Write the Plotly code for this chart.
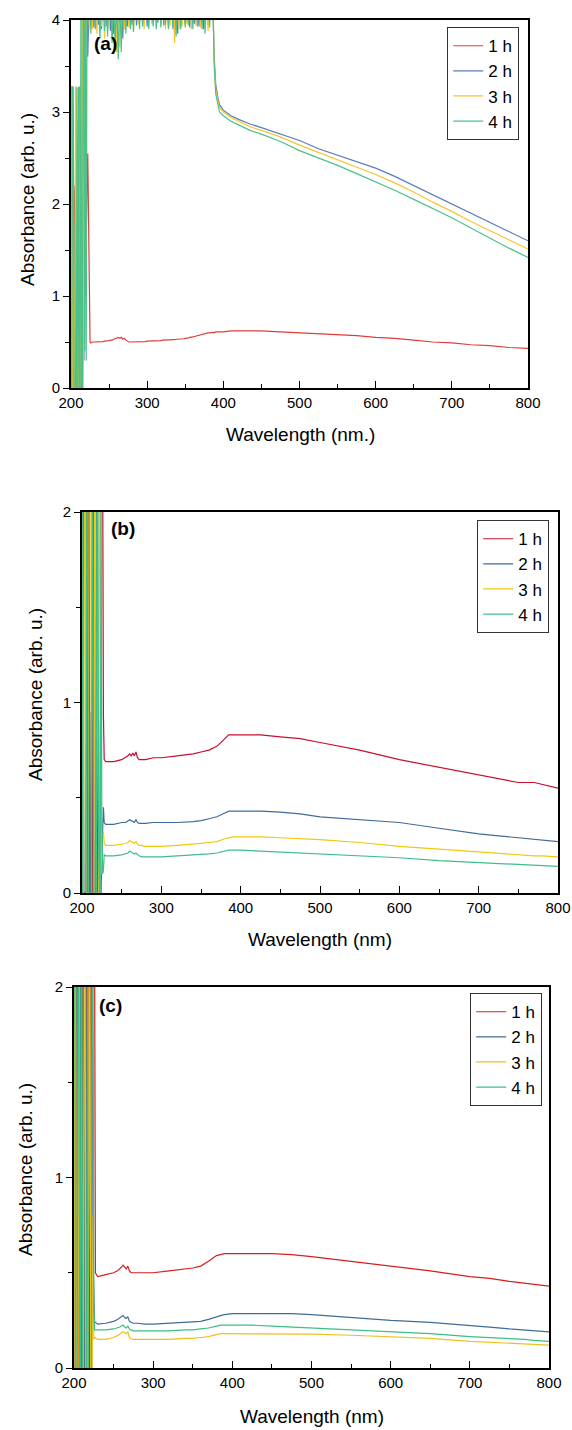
import plotly.graph_objects as go

# ---------------- data ----------------
labels = ["1 h", "2 h", "3 h", "4 h"]

# panel (a) wavelength grid: 1 nm in the noisy UV edge, 2 nm in the saturated band, then coarser
wl_a = list(range(200, 226)) + list(range(226, 387, 2)) + [
    388, 390, 393, 395, 400, 410, 420, 435, 450, 475, 500, 525, 550, 575,
    600, 625, 650, 675, 700, 725, 750, 775, 800]

a_1h_edge = [0, 0, 0.5, 0, 2.2, 1.9, 0, 0, 0, 1.5, 0, 0, 0.35, 0, 0, 0, 0.5, 1.2, 1.9, 1.0, 1.8, 2.2, 2.55, 1.85, 0.7, 0.5]
a_1h_band = [0.49, 0.5, 0.5, 0.5, 0.5, 0.5, 0.5, 0.5, 0.505, 0.51,
             0.51, 0.51, 0.515, 0.52, 0.52, 0.53, 0.535, 0.545, 0.55, 0.54,
             0.55, 0.53, 0.54, 0.52, 0.51, 0.5, 0.5, 0.5, 0.5, 0.5,
             0.5, 0.5, 0.5, 0.5, 0.505, 0.505, 0.505, 0.51, 0.51, 0.51,
             0.51, 0.51, 0.51, 0.515, 0.515, 0.515, 0.515, 0.52, 0.52, 0.52,
             0.52, 0.52, 0.52, 0.525, 0.525, 0.525, 0.53, 0.53, 0.53, 0.53,
             0.535, 0.535, 0.54, 0.54, 0.545, 0.55, 0.55, 0.555, 0.56, 0.565,
             0.57, 0.575, 0.58, 0.585, 0.59, 0.595, 0.6, 0.6, 0.6, 0.605,
             0.605]
a_1h_tail = [0.6, 0.61, 0.61, 0.61, 0.61, 0.62, 0.62, 0.62, 0.62, 0.61, 0.6, 0.59, 0.58, 0.57, 0.55, 0.54, 0.52, 0.5, 0.49, 0.47, 0.46, 0.44, 0.43]

a_2h_edge = [0, 3.27, 3.27, 0, 0, 1.8, 0, 3.27, 0, 0, 0, 3.27, 3.27, 0, 0, 4.3, 4.3, 0.3, 4.3, 4.3, 4.3, 4.3, 3.6, 4.3, 4.3, 4.3]
a_2h_band = [4.3, 4.3, 3.92, 4.3, 4.3, 3.95, 4.3, 3.9, 4.3, 4.3,
             3.93, 4.3, 4.3, 3.88, 4.3, 3.85, 4.3, 3.75, 4.3, 3.9,
             4.3, 3.8, 4.3, 4.3, 3.93, 4.3, 4.3, 3.95, 4.3, 4.3,
             3.94, 4.3, 4.3, 4.3, 3.96, 4.3, 4.3, 3.93, 4.3, 4.3,
             4.3, 3.95, 4.3, 4.3, 3.97, 4.3, 4.3, 4.3, 3.94, 4.3,
             4.3, 3.92, 4.3, 4.3, 3.9, 4.3, 4.3, 3.85, 4.3, 3.93,
             4.3, 4.3, 3.95, 4.3, 4.3, 3.92, 4.3, 4.3, 3.96, 4.3,
             4.3, 3.93, 4.3, 4.3, 3.9, 4.3, 4.3, 3.95, 4.3, 4.3,
             4.3]
a_2h_tail = [3.6, 3.3, 3.15, 3.08, 3.02, 2.96, 2.92, 2.87, 2.83, 2.76, 2.69, 2.6, 2.53, 2.46, 2.39, 2.3, 2.2, 2.1, 2.0, 1.9, 1.8, 1.7, 1.6]

a_3h_edge = [3.27, 0, 0, 2.5, 0, 0, 3.27, 3.27, 0, 1.2, 0, 0, 3.27, 0, 4.3, 4.3, 0, 4.3, 4.3, 3.8, 4.3, 4.3, 4.3, 4.3, 3.9, 4.3]
a_3h_band = [4.3, 3.9, 4.3, 4.3, 3.85, 4.3, 4.3, 3.93, 4.3, 3.8,
             4.3, 4.3, 3.9, 4.3, 3.82, 4.3, 4.3, 3.65, 4.3, 3.7,
             4.3, 4.3, 3.9, 4.3, 4.3, 3.92, 4.3, 4.3, 3.88, 4.3,
             4.3, 3.95, 4.3, 4.3, 4.3, 3.9, 4.3, 4.3, 3.94, 4.3,
             3.96, 4.3, 4.3, 3.92, 4.3, 4.3, 3.95, 4.3, 4.3, 3.9,
             4.3, 4.3, 3.94, 4.3, 4.3, 3.75, 4.3, 4.3, 3.9, 4.3,
             3.93, 4.3, 4.3, 3.96, 4.3, 4.3, 3.9, 4.3, 4.3, 3.94,
             4.3, 4.3, 3.92, 4.3, 4.3, 3.95, 4.3, 3.88, 4.3, 4.3,
             4.3]
a_3h_tail = [3.55, 3.25, 3.12, 3.05, 3.0, 2.94, 2.9, 2.84, 2.8, 2.73, 2.64, 2.56, 2.48, 2.4, 2.32, 2.23, 2.13, 2.02, 1.92, 1.81, 1.71, 1.61, 1.51]

a_4h_edge = [0, 0, 3.27, 3.27, 0, 0, 0, 0, 3.27, 0, 3.27, 0, 0, 4.3, 0, 0, 4.3, 4.3, 0.4, 4.3, 0.3, 4.3, 4.3, 4.3, 4.3, 4.3]
a_4h_band = [3.85, 4.3, 4.3, 3.9, 4.3, 4.3, 3.8, 4.3, 4.3, 3.88,
             4.3, 3.82, 4.3, 4.3, 3.75, 4.3, 3.7, 4.3, 3.57, 4.3,
             3.65, 4.3, 4.3, 3.85, 4.3, 4.3, 3.9, 4.3, 3.87, 4.3,
             4.3, 4.3, 3.9, 4.3, 3.93, 4.3, 4.3, 4.3, 3.9, 4.3,
             4.3, 3.93, 4.3, 3.9, 4.3, 4.3, 3.92, 4.3, 4.3, 3.95,
             4.3, 3.9, 4.3, 4.3, 3.93, 4.3, 3.82, 4.3, 4.3, 3.9,
             4.3, 4.3, 3.92, 4.3, 3.94, 4.3, 4.3, 3.9, 4.3, 4.3,
             3.93, 4.3, 4.3, 3.9, 4.3, 3.85, 4.3, 4.3, 3.92, 4.3,
             4.3]
a_4h_tail = [3.5, 3.2, 3.08, 3.0, 2.96, 2.9, 2.86, 2.8, 2.76, 2.68, 2.58, 2.5, 2.42, 2.33, 2.24, 2.15, 2.05, 1.95, 1.85, 1.74, 1.63, 1.52, 1.42]

a_1h = a_1h_edge + a_1h_band + a_1h_tail
a_2h = a_2h_edge + a_2h_band + a_2h_tail
a_3h = a_3h_edge + a_3h_band + a_3h_tail
a_4h = a_4h_edge + a_4h_band + a_4h_tail

# panels (b) and (c) wavelength grid
wl_bc = list(range(200, 229)) + [
    230, 240, 250, 255, 258, 260, 262, 264, 266, 268, 270, 272, 275, 280, 290, 300, 320, 340, 350, 360,
    370, 380, 385, 390, 400, 425, 450, 475, 500, 550, 600, 650, 700, 725, 750, 770, 780, 800]

b_1h = [0, 0, 2.3, 2.3, 2.3, 0, 0, 0, 2.3, 2.3, 0, 0, 0, 0, 2.3, 2.3, 2.3, 0, 0, 2.3, 2.3, 2.3, 2.3, 2.3, 2.3, 2.3, 2.3] + \
       [0.93, 0.70] + \
       [0.69, 0.69, 0.70, 0.71, 0.72, 0.73, 0.72, 0.735, 0.72, 0.74, 0.71, 0.70, 0.70, 0.70, 0.71, 0.71, 0.72, 0.73, 0.74, 0.75,
        0.77, 0.81, 0.83, 0.83, 0.83, 0.83, 0.82, 0.81, 0.79, 0.75, 0.70, 0.66, 0.62, 0.60, 0.58, 0.58, 0.57, 0.55]
b_2h = [2.3, 2.3, 0, 0, 0, 2.3, 2.3, 0, 0, 0, 0.95, 0, 0, 2.3, 2.3, 0, 0, 0, 2.3, 0, 0, 0.9, 0, 0, 0, 0.2, 0.3] + \
       [0.45, 0.37] + \
       [0.36, 0.36, 0.37, 0.37, 0.38, 0.385, 0.38, 0.375, 0.37, 0.385, 0.37, 0.365, 0.365, 0.365, 0.37, 0.37, 0.37, 0.375, 0.38, 0.39,
        0.40, 0.42, 0.43, 0.43, 0.43, 0.43, 0.425, 0.415, 0.40, 0.385, 0.37, 0.34, 0.31, 0.30, 0.29, 0.285, 0.28, 0.27]
b_3h = [0, 0, 0, 2.3, 2.3, 0, 0, 0, 0, 2.3, 2.3, 2.3, 0, 0, 0, 0, 2.3, 2.3, 0, 0, 0, 0, 2.3, 2.3, 0.1, 0.3, 0.3] + \
       [0.32, 0.26] + \
       [0.25, 0.25, 0.255, 0.26, 0.265, 0.275, 0.27, 0.265, 0.26, 0.27, 0.255, 0.25, 0.25, 0.245, 0.245, 0.245, 0.25, 0.255, 0.26, 0.265,
        0.27, 0.285, 0.29, 0.295, 0.295, 0.295, 0.29, 0.285, 0.28, 0.265, 0.245, 0.23, 0.215, 0.21, 0.2, 0.195, 0.195, 0.19]
b_4h = [2.3, 0, 0, 0, 0, 0, 2.3, 2.3, 0, 0, 0, 0, 0, 2.3, 0.7, 0, 0, 0, 0, 2.3, 2.3, 0.25, 0, 0, 2.3, 0.35, 0.1] + \
       [0.12, 0.2] + \
       [0.195, 0.195, 0.2, 0.205, 0.21, 0.22, 0.215, 0.21, 0.205, 0.21, 0.2, 0.195, 0.19, 0.19, 0.19, 0.19, 0.195, 0.2, 0.2, 0.205,
        0.21, 0.22, 0.225, 0.225, 0.225, 0.22, 0.215, 0.21, 0.205, 0.195, 0.185, 0.17, 0.16, 0.155, 0.15, 0.145, 0.145, 0.14]

c_1h = [0, 0, 0, 0, 2.3, 2.3, 0, 0, 0, 0, 0, 2.3, 2.3, 0, 0, 0, 2.3, 2.3, 2.3, 0, 0, 2.3, 2.3, 2.3, 2.3, 2.3, 2.3] + \
       [0.5, 0.49] + \
       [0.48, 0.49, 0.5, 0.51, 0.52, 0.53, 0.54, 0.53, 0.52, 0.535, 0.51, 0.5, 0.5, 0.5, 0.5, 0.5, 0.51, 0.52, 0.525, 0.535,
        0.56, 0.59, 0.595, 0.6, 0.6, 0.6, 0.6, 0.595, 0.585, 0.56, 0.535, 0.51, 0.48, 0.47, 0.455, 0.445, 0.44, 0.43]
c_2h = [0, 0, 2.3, 2.3, 0, 0, 0, 0, 2.3, 0, 0, 0, 0, 0, 2.3, 2.3, 0, 0, 0, 0, 0, 0, 2.3, 2.3, 0.6, 0.3, 0.24] + \
       [0.24, 0.235] + \
       [0.23, 0.235, 0.245, 0.255, 0.265, 0.27, 0.275, 0.265, 0.26, 0.27, 0.245, 0.24, 0.235, 0.235, 0.23, 0.23, 0.235, 0.24, 0.24, 0.245,
        0.255, 0.27, 0.275, 0.28, 0.285, 0.285, 0.285, 0.285, 0.28, 0.265, 0.25, 0.24, 0.225, 0.215, 0.205, 0.2, 0.195, 0.19]
c_3h = [0, 2.3, 2.3, 0, 0, 0, 2.3, 0, 0, 0, 0, 0, 0, 2.3, 2.3, 0, 0, 0, 0, 2.3, 2.3, 0, 0, 0, 0.8, 0.15, 0.16] + \
       [0.16, 0.155] + \
       [0.15, 0.15, 0.16, 0.17, 0.18, 0.185, 0.19, 0.185, 0.18, 0.19, 0.16, 0.155, 0.15, 0.15, 0.15, 0.15, 0.15, 0.155, 0.155, 0.16,
        0.165, 0.175, 0.18, 0.18, 0.18, 0.18, 0.18, 0.18, 0.178, 0.172, 0.165, 0.155, 0.14, 0.135, 0.13, 0.125, 0.125, 0.12]
c_4h = [2.3, 2.3, 0, 0, 0, 2.3, 2.3, 0, 0, 2.3, 2.3, 0, 0, 0, 0, 0, 0, 2.3, 0, 0, 0, 0, 0, 2.3, 2.3, 0.3, 0.2] + \
       [0.2, 0.2] + \
       [0.2, 0.2, 0.205, 0.21, 0.215, 0.22, 0.225, 0.215, 0.21, 0.22, 0.205, 0.2, 0.195, 0.195, 0.195, 0.195, 0.195, 0.2, 0.2, 0.205,
        0.21, 0.22, 0.225, 0.225, 0.225, 0.225, 0.22, 0.215, 0.21, 0.2, 0.19, 0.18, 0.165, 0.16, 0.155, 0.15, 0.145, 0.14]

colors_a = ["#e03c3c", "#5a7db5", "#f7c431", "#4cc28a"]
colors_b = ["#c8102e", "#3f6c99", "#f2c80f", "#3dbf8a"]
colors_c = ["#d81e1e", "#3e6d96", "#f0c020", "#3cbf85"]

# ---------------- figure ----------------
W, H = 572, 1430
FONT = "Liberation Sans, Arial, sans-serif"

def px_x(p):
    return p / W

def px_y(p):
    return 1 - p / H

panels = [
    (wl_a, [a_1h, a_2h, a_3h, a_4h], colors_a, "", "legend", 4, (71, 528, 20, 388), (519, 27)),
    (wl_bc, [b_1h, b_2h, b_3h, b_4h], colors_b, "2", "legend2", 2, (82, 558, 512, 893), (549, 520)),
    (wl_bc, [c_1h, c_2h, c_3h, c_4h], colors_c, "3", "legend3", 2, (74, 549, 987, 1368), (542, 993)),
]

fig = go.Figure()
layout = dict(
    template="none",
    width=W, height=H, margin=dict(l=0, r=0, t=0, b=0, autoexpand=False),
    paper_bgcolor="white", plot_bgcolor="white",
    font=dict(family=FONT, color="black"),
    showlegend=True,
)

for wl, series, cols, sfx, lg, ymax, dom, lpos in panels:
    for name, ys, col in zip(labels, series, cols):
        fig.add_trace(go.Scatter(
            x=wl, y=ys, mode="lines", name=name,
            line=dict(color=col, width=1.2),
            xaxis="x" + sfx, yaxis="y" + sfx, legend=lg,
        ))
    x0, x1, y0, y1 = dom
    layout["xaxis" + sfx] = dict(
        domain=[px_x(x0), px_x(x1)], range=[200, 800], anchor="y" + sfx, automargin=False,
        tick0=200, dtick=100, ticks="inside", ticklen=7, tickwidth=1.2, tickcolor="black",
        minor=dict(dtick=50, ticks="inside", ticklen=4, tickwidth=1.2, tickcolor="black"),
        showline=True, linecolor="black", linewidth=1.6, mirror=True,
        showgrid=False, zeroline=False, tickfont=dict(size=15, family=FONT),
        ticklabeloverflow="allow",
    )
    layout["yaxis" + sfx] = dict(
        domain=[px_y(y1), px_y(y0)], range=[0, ymax], anchor="x" + sfx, automargin=False,
        tick0=0, dtick=1, ticks="outside", ticklen=6, tickwidth=1.2, tickcolor="black",
        minor=dict(dtick=0.5, ticks="outside", ticklen=4, tickwidth=1.2, tickcolor="black"),
        showline=True, linecolor="black", linewidth=1.6, mirror=True,
        showgrid=False, zeroline=False, tickfont=dict(size=15, family=FONT),
    )
    layout[lg] = dict(
        x=px_x(lpos[0]), xanchor="right", y=px_y(lpos[1]), yanchor="top",
        bordercolor="#333333", borderwidth=1.2, bgcolor="white",
        font=dict(size=17, family=FONT), tracegroupgap=0,
    )

fig.update_layout(**layout)

annotations = []
for xc, yc in [(27, 200), (35, 695), (25, 1170)]:
    annotations.append(dict(text="Absorbance (arb. u.)", x=px_x(xc), y=px_y(yc), xref="paper", yref="paper",
                            textangle=-90, showarrow=False, font=dict(size=19, family=FONT),
                            xanchor="center", yanchor="middle"))
for txt, xc, yc in [("Wavelength (nm.)", 300, 434), ("Wavelength (nm)", 320, 940), ("Wavelength (nm)", 312, 1416)]:
    annotations.append(dict(text=txt, x=px_x(xc), y=px_y(yc), xref="paper", yref="paper",
                            showarrow=False, font=dict(size=19, family=FONT),
                            xanchor="center", yanchor="middle"))
for txt, xl, yc in [("<b>(a)</b>", 92, 43), ("<b>(b)</b>", 109, 528), ("<b>(c)</b>", 97, 1005)]:
    annotations.append(dict(text=txt, x=px_x(xl), y=px_y(yc), xref="paper", yref="paper",
                            showarrow=False, font=dict(size=19, family=FONT),
                            xanchor="left", yanchor="middle"))
fig.update_layout(annotations=annotations)

# place the figure at the page's top-left corner (remove the browser's default body margin)
page_fix = ("document.body.style.margin='0';document.body.style.padding='0';"
            "document.documentElement.style.overflow='hidden';")

fig.write_html("out.html", post_script=page_fix, config={"displayModeBar": False})
